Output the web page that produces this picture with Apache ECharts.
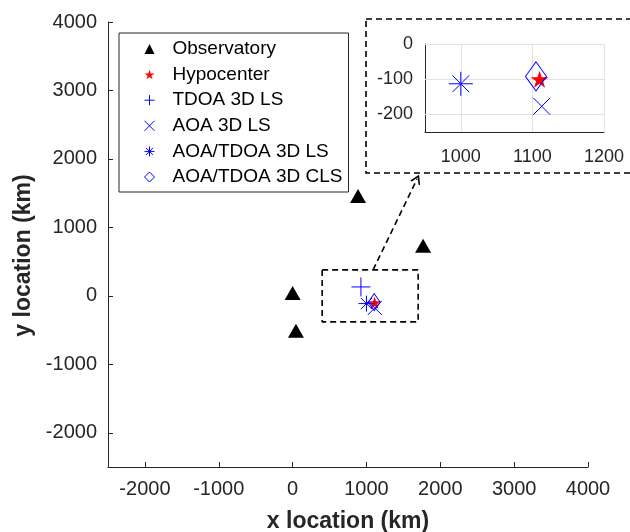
<!DOCTYPE html>
<html>
<head>
<meta charset="utf-8">
<script src="https://cdn.jsdelivr.net/npm/echarts@6/dist/echarts.min.js"></script>
<style>html,body{margin:0;padding:0;background:#fff}#c{width:630px;height:532px}</style>
</head>
<body>
<div id="c"></div>
<script>
// ---- data ----
const seriesNames = ['Observatory', 'Hypocenter', 'TDOA 3D LS', 'AOA 3D LS', 'AOA/TDOA 3D LS', 'AOA/TDOA 3D CLS'];
const observatoryX = [0, 45, 886, 1767];
const observatoryY = [40, -511, 1460, 730];
const hypocenter = [1110, -100];
const tdoa3dLS = [925, 130];
const aoa3dLS = [1113, -177];
const aoaTdoa3dLS = [1000, -113];
const aoaTdoa3dCLS = [1105, -92];
const xTickVals = [-2000, -1000, 0, 1000, 2000, 3000, 4000];
const yTickVals = [-2000, -1000, 0, 1000, 2000, 3000, 4000];
const insetXTicks = [1000, 1100, 1200];
const insetYTicks = [-200, -100, 0];
const zoomBoxX = [400, 1700];
const zoomBoxY = [-380, 380];
const arrowFrom = [1090, 380];
const arrowTo = [1686, 1708];

// ---- symbols ----
const BLUE = '#0000ff';
const STAR = 'path://M50,0L61.23,34.55L97.55,34.55L68.16,55.9L79.39,90.45L50,69.1L20.61,90.45L31.84,55.9L2.45,34.55L38.77,34.55Z';
const PLUS = 'path://M0,5L10,5M5,0L5,10';
const CROSS = 'path://M0,0L10,10M10,0L0,10';
const ASTER = 'path://M0,5L10,5M5,0L5,10M1.5,1.5L8.5,8.5M8.5,1.5L1.5,8.5';
const CHEVRON = 'path://M0,10L5,0L10,10L8.3,10L5,3.4L1.7,10Z';
const FONT = 'Liberation Sans';
const TXT = '#262626';
const plain = v => String(v);

const obsData = observatoryX.map((x, i) => [x, observatoryY[i]]);

function strokeStyle() { return { color: 'none', borderColor: BLUE, borderWidth: 1, opacity: 1 }; }

function markerSeries(gi, sizes) {
  return [
    { name: seriesNames[1], type: 'scatter', xAxisIndex: gi, yAxisIndex: gi, data: [hypocenter], symbol: STAR, symbolSize: sizes.star, itemStyle: { color: '#ff0000', opacity: 1 }, z: 5 },
    { name: seriesNames[2], type: 'scatter', xAxisIndex: gi, yAxisIndex: gi, data: [tdoa3dLS], symbol: PLUS, symbolSize: sizes.plus, itemStyle: strokeStyle(), z: 5 },
    { name: seriesNames[3], type: 'scatter', xAxisIndex: gi, yAxisIndex: gi, data: [aoa3dLS], symbol: CROSS, symbolSize: sizes.cross, itemStyle: strokeStyle(), z: 5 },
    { name: seriesNames[4], type: 'scatter', xAxisIndex: gi, yAxisIndex: gi, data: [aoaTdoa3dLS], symbol: ASTER, symbolSize: sizes.aster, itemStyle: strokeStyle(), z: 5 },
    { name: seriesNames[5], type: 'scatter', xAxisIndex: gi, yAxisIndex: gi, data: [aoaTdoa3dCLS], symbol: 'diamond', symbolSize: sizes.diamond, itemStyle: strokeStyle(), z: 5 }
  ];
}

const series = [
  { name: seriesNames[0], type: 'scatter', xAxisIndex: 0, yAxisIndex: 0, data: obsData, symbol: 'triangle', symbolSize: [16, 14], itemStyle: { color: '#000', opacity: 1 }, z: 5 },
  ...markerSeries(0, { star: [13, 12], plus: 19, cross: 14, aster: 16, diamond: [12, 17] }),
  // zoom box + arrow in main axes
  {
    name: 'zoombox', type: 'line', xAxisIndex: 0, yAxisIndex: 0, silent: true, symbol: 'none', z: 3,
    data: [[zoomBoxX[0], zoomBoxY[1]], [zoomBoxX[1], zoomBoxY[1]], [zoomBoxX[1], zoomBoxY[0]], [zoomBoxX[0], zoomBoxY[0]], [zoomBoxX[0], zoomBoxY[1]]],
    lineStyle: { color: '#000', width: 1.6, type: [6, 4] },
    markLine: {
      silent: true, symbol: ['none', CHEVRON], symbolSize: [11, 9], label: { show: false },
      lineStyle: { color: '#000', width: 1.6, type: [6, 4] },
      data: [[{ coord: arrowFrom }, { coord: arrowTo }]]
    }
  },
  // inset grid lines
  {
    name: 'insetgrid', type: 'line', xAxisIndex: 1, yAxisIndex: 1, data: [], silent: true, z: 1,
    markLine: {
      silent: true, symbol: 'none', label: { show: false },
      lineStyle: { color: '#e3e3e3', width: 1, type: 'solid' },
      data: insetXTicks.map(v => ({ xAxis: v })).concat(insetYTicks.map(v => ({ yAxis: v })))
    }
  },
  ...markerSeries(1, { star: [18, 17], plus: 19, cross: 17, aster: 24, diamond: [21, 29] })
];

const chart = echarts.init(document.getElementById('c'), null, { renderer: 'canvas' });
chart.setOption({
  animation: false,
  backgroundColor: '#fff',
  grid: [
    { left: 108, top: 22, width: 480, height: 445, outerBoundsMode: 'none', containLabel: false },
    { left: 425, top: 44, width: 179, height: 88, outerBoundsMode: 'none', containLabel: false }
  ],
  xAxis: [
    {
      gridIndex: 0, type: 'value', min: -2500, max: 4000,
      axisLine: { show: true, onZero: false, lineStyle: { color: TXT, width: 1 } },
      axisTick: { show: true, inside: true, length: 5, customValues: xTickVals, lineStyle: { color: TXT } },
      axisLabel: { customValues: xTickVals, formatter: plain, fontSize: 20, color: TXT, margin: 12, fontFamily: FONT },
      splitLine: { show: false },
      name: 'x location (km)', nameLocation: 'middle', nameGap: 43,
      nameTextStyle: { fontSize: 23, fontWeight: 'bold', color: TXT, fontFamily: FONT }
    },
    {
      gridIndex: 1, type: 'value', min: 950, max: 1200,
      axisLine: { show: true, onZero: false, lineStyle: { color: TXT, width: 1 } },
      axisTick: { show: false, customValues: insetXTicks },
      axisLabel: { customValues: insetXTicks, formatter: plain, fontSize: 18, color: TXT, margin: 16, fontFamily: FONT },
      splitLine: { show: false }
    }
  ],
  yAxis: [
    {
      gridIndex: 0, type: 'value', min: -2500, max: 4000,
      axisLine: { show: true, onZero: false, lineStyle: { color: TXT, width: 1 } },
      axisTick: { show: true, inside: true, length: 5, customValues: yTickVals, lineStyle: { color: TXT } },
      axisLabel: { customValues: yTickVals, formatter: plain, fontSize: 20, color: TXT, margin: 11, fontFamily: FONT },
      splitLine: { show: false },
      name: 'y location (km)', nameLocation: 'middle', nameGap: 66, nameRotate: 90,
      nameTextStyle: { fontSize: 23, fontWeight: 'bold', color: TXT, fontFamily: FONT, padding: [0, 22, 0, 0] }
    },
    {
      gridIndex: 1, type: 'value', min: -250, max: 0,
      axisLine: { show: true, onZero: false, lineStyle: { color: TXT, width: 1 } },
      axisTick: { show: false, customValues: insetYTicks },
      axisLabel: { customValues: insetYTicks, formatter: plain, fontSize: 18, color: TXT, margin: 12, fontFamily: FONT },
      splitLine: { show: false }
    }
  ],
  legend: {
    data: seriesNames, orient: 'vertical', left: 119, top: 33,
    selectedMode: false,
    itemWidth: 10, itemHeight: 10, itemGap: 3.6,
    padding: [5, 6, 4, 23],
    borderColor: TXT, borderWidth: 1, backgroundColor: '#fff',
    itemStyle: { borderWidth: 1 },
    textStyle: { fontSize: 19, color: '#000', fontFamily: FONT, lineHeight: 22, padding: [0, 0, 0, 13] }
  },
  graphic: [
    {
      type: 'rect', silent: true, z: 0,
      shape: { x: 366, y: 19, width: 280, height: 154 },
      style: { fill: 'none', stroke: '#000', lineWidth: 1.6, lineDash: [6, 4] }
    }
  ],
  series: series
});
</script>
</body>
</html>
